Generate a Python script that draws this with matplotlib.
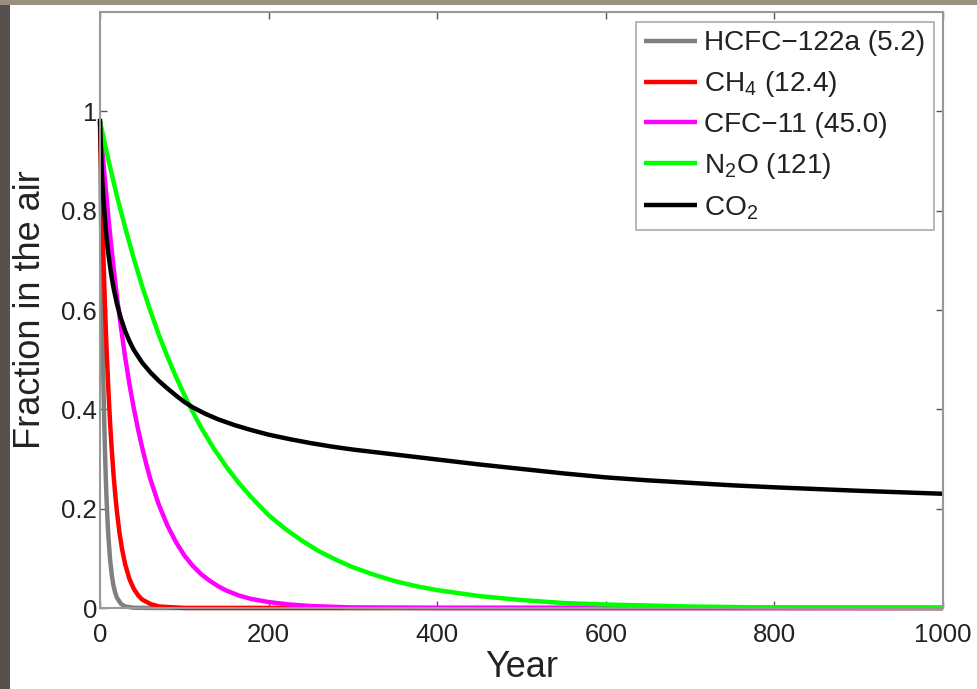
import matplotlib
matplotlib.use("Agg")
import matplotlib.pyplot as plt
from matplotlib.patches import Rectangle

plt.rcParams['font.family'] = ['Liberation Sans', 'DejaVu Sans']
plt.rcParams['mathtext.fontset'] = 'custom'
plt.rcParams['mathtext.rm'] = 'Liberation Sans'
plt.rcParams['mathtext.default'] = 'regular'

# values (fraction remaining vs. year)
hcfc_years = [0, 1, 2, 3, 4, 5, 6, 7, 8, 9, 10, 12, 14, 16, 18, 20, 25, 30, 40, 60, 1000]
hcfc_vals = [0.98, 0.81, 0.67, 0.55, 0.455, 0.375, 0.31, 0.255, 0.21, 0.174, 0.143,
             0.097, 0.066, 0.045, 0.031, 0.021, 0.008, 0.003, 0.0005, 0.0, 0.0]

ch4_years = [0, 1, 2, 3, 4, 5, 6, 7, 8, 10, 12, 14, 16, 18, 20, 23, 26, 30, 35, 40,
             45, 50, 60, 70, 80, 100, 1000]
ch4_vals = [0.98, 0.904, 0.834, 0.77, 0.71, 0.655, 0.604, 0.557, 0.514, 0.437, 0.372,
            0.317, 0.27, 0.23, 0.195, 0.153, 0.12, 0.087, 0.058, 0.039, 0.026, 0.017,
            0.008, 0.003, 0.002, 0.0, 0.0]

cfc_years = [0, 5, 10, 15, 20, 25, 30, 35, 40, 45, 50, 55, 60, 70, 80, 90, 100, 110,
             120, 130, 140, 150, 165, 180, 200, 225, 250, 300, 400, 1000]
cfc_vals = [0.98, 0.877, 0.785, 0.702, 0.628, 0.563, 0.503, 0.45, 0.403, 0.361, 0.323,
            0.289, 0.258, 0.207, 0.166, 0.133, 0.106, 0.085, 0.068, 0.055, 0.044, 0.035,
            0.025, 0.018, 0.012, 0.007, 0.004, 0.001, 0.0, 0.0]

n2o_years = [0, 10, 20, 30, 40, 50, 60, 70, 80, 90, 100, 110, 120, 135, 150, 165, 180,
             200, 220, 240, 260, 280, 300, 325, 350, 375, 400, 450, 500, 550, 600, 700,
             800, 1000]
n2o_vals = [0.98, 0.902, 0.83, 0.765, 0.704, 0.648, 0.597, 0.549, 0.506, 0.466, 0.429,
            0.395, 0.363, 0.321, 0.284, 0.251, 0.222, 0.187, 0.159, 0.135, 0.114, 0.097,
            0.082, 0.067, 0.054, 0.044, 0.036, 0.024, 0.016, 0.01, 0.007, 0.003, 0.001,
            0.0]

co2_years = [0, 1, 2, 3, 4, 6, 8, 10, 13, 16, 20, 25, 30, 35, 40, 50, 60, 70, 80, 90,
             100, 110, 125, 140, 160, 180, 200, 225, 250, 275, 300, 350, 400, 450, 500,
             550, 600, 650, 700, 750, 800, 850, 900, 950, 1000]
co2_vals = [0.985, 0.93, 0.885, 0.85, 0.825, 0.78, 0.742, 0.712, 0.675, 0.645, 0.613,
            0.582, 0.557, 0.537, 0.52, 0.494, 0.474, 0.457, 0.442, 0.428, 0.415, 0.404,
            0.391, 0.38, 0.368, 0.358, 0.349, 0.34, 0.332, 0.325, 0.319, 0.309, 0.299,
            0.289, 0.28, 0.271, 0.263, 0.257, 0.252, 0.247, 0.243, 0.2395, 0.236, 0.233,
            0.23]

labels = ['HCFC\u2212122a (5.2)', 'CH$_4$ (12.4)', 'CFC\u221211 (45.0)', 'N$_2$O (121)', 'CO$_2$']
colors = ['#808080', '#ff0000', '#ff00ff', '#00ff00', '#000000']

x_ticks = [0, 200, 400, 600, 800, 1000]
y_ticks = [0, 0.2, 0.4, 0.6, 0.8, 1]

W, H = 978, 689
fig = plt.figure(figsize=(W / 100, H / 100), dpi=100)
fig.patch.set_facecolor('white')

# dark photo border on the top and left
fig.patches.append(Rectangle((0, 0), 10 / W, 1, transform=fig.transFigure,
                             facecolor='#56514c', edgecolor='none', zorder=0))
fig.patches.append(Rectangle((0, 1 - 5 / H), 1, 5 / H, transform=fig.transFigure,
                             facecolor='#9a9080', edgecolor='none', zorder=0))

ax = fig.add_axes([100 / W, 81 / H, 843 / W, 596 / H])

series = [(hcfc_years, hcfc_vals), (ch4_years, ch4_vals), (cfc_years, cfc_vals),
          (n2o_years, n2o_vals), (co2_years, co2_vals)]
for (xs, ys), lab, c in zip(series, labels, colors):
    ax.plot(xs, ys, color=c, lw=3.2, label=lab, clip_on=False,
            solid_capstyle='butt', solid_joinstyle='round')

ax.set_xlim(0, 1000)
ax.set_ylim(0, 1.2)
ax.set_xticks(x_ticks)
ax.set_xticklabels([str(t) for t in x_ticks])
ax.set_yticks(y_ticks)
ax.set_yticklabels(['0', '0.2', '0.4', '0.6', '0.8', '1'])

for s in ax.spines.values():
    s.set_color('#999999')
    s.set_linewidth(1.5)
ax.tick_params(direction='in', length=5, width=1, color='#555555',
               top=True, right=True, labelsize=18.5, labelcolor='#222222')
ax.tick_params(axis='x', pad=11)
ax.tick_params(axis='y', pad=2)

ax.set_xlabel('Year', fontsize=26, color='#222222')
ax.set_ylabel('Fraction in the air', fontsize=26, color='#222222')
ax.xaxis.set_label_coords(0.5, -0.07)
ax.yaxis.set_label_coords(-0.062, 0.5)

leg = ax.legend(loc='upper right', bbox_to_anchor=(0.9893, 0.9832), borderaxespad=0,
                fontsize=20.2, handlelength=1.9, handletextpad=0.25, labelspacing=0.46,
                borderpad=0.3, fancybox=False, framealpha=1, edgecolor='#aaaaaa')
leg.get_frame().set_linewidth(1.2)
for t in leg.get_texts():
    t.set_color('#222222')

fig.savefig('out.png', dpi=100)
